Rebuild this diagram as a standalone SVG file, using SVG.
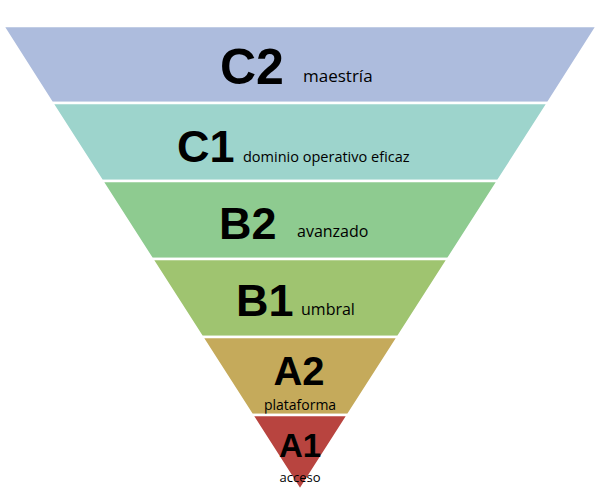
<svg xmlns="http://www.w3.org/2000/svg" width="600" height="497" viewBox="0 0 600 497">
<style>
.b{stroke:#fff;stroke-width:2.5}
.big{font-family:"Liberation Sans",Arial,sans-serif;font-weight:bold;fill:#000}
.sm{font-family:"Open Sans","Liberation Sans",sans-serif;fill:#000}
</style>
<rect width="600" height="497" fill="#fff"/>
<g id="C2"><polygon class="b" points="3,26 597,26 548,103 52,103" fill="#adbcdd"/>
<text class="big" x="220" y="84" font-size="50">C2</text><text class="sm" x="303" y="82" font-size="17">maestría</text></g>
<g id="C1"><polygon class="b" points="52,103 548,103 498,181 102,181" fill="#9dd4cc"/>
<text class="big" x="177" y="162" font-size="45">C1</text><text class="sm" x="243" y="162" font-size="14.5">dominio operativo eficaz</text></g>
<g id="B2"><polygon class="b" points="102,181 498,181 448,259 152,259" fill="#8ecb90"/>
<text class="big" x="219" y="239" font-size="45">B2</text><text class="sm" x="297" y="237" font-size="16">avanzado</text></g>
<g id="B1"><polygon class="b" points="152,259 448,259 398,337 202,337" fill="#9fc470"/>
<text class="big" x="236" y="316" font-size="45">B1</text><text class="sm" x="301" y="315" font-size="16">umbral</text></g>
<g id="A2"><polygon class="b" points="202,337 398,337 348,415 252,415" fill="#c5aa5b"/>
<text class="big" x="299" y="385" font-size="40" text-anchor="middle">A2</text><text class="sm" x="300" y="410" font-size="14" text-anchor="middle">plataforma</text></g>
<g id="A1"><polygon class="b" points="252,415 348,415 300,490" fill="#b8443f"/>
<text class="big" x="300" y="457" font-size="33" text-anchor="middle">A1</text><text class="sm" x="300" y="482" font-size="13" text-anchor="middle">acceso</text></g>
<g id="connectors"/>
</svg>
